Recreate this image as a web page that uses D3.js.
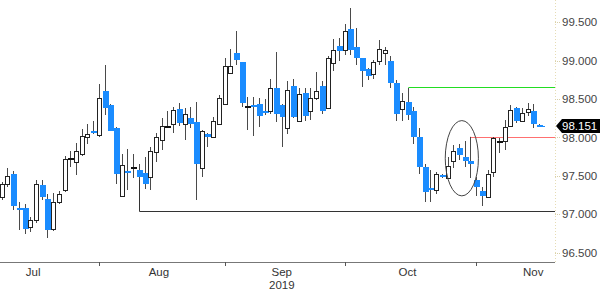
<!DOCTYPE html>
<html>
<head>
<meta charset="utf-8">
<script src="https://cdn.jsdelivr.net/npm/d3@7"></script>
<style>
  body { margin: 0; background: #fff; }
  svg { display: block; font-family: "Liberation Sans", Arial, sans-serif; }
</style>
</head>
<body>
<div id="chart"></div>
<script>
// Daily OHLC, 9 Jul - 18 Nov 2019 (one entry per trading day)
const opens = [
  97.23, 97.39, 97.52, 97.08, 97.08, 96.84, 96.93, 97.38, 97.20, 96.81,
  97.16, 97.32, 97.728, 97.68, 97.79, 98.00, 98.09, 98.03, 98.61, 98.42,
  98.12, 97.24, 97.57, 97.61, 97.58, 97.54, 97.49, 97.81, 97.97, 98.15,
  98.18, 98.37, 98.18, 98.26, 98.20, 97.60, 98.05, 98.01, 98.18, 98.43,
  98.84, 99.10, 98.98, 98.41, 98.42, 98.44, 98.34, 98.35, 98.64, 98.42,
  98.13, 98.67, 98.21, 98.58, 98.35, 98.52, 98.67, 98.38, 98.97, 99.19,
  99.14, 99.41, 99.18, 99.04, 98.89, 98.83, 98.99, 99.10, 99.00, 98.71,
  98.37, 98.46, 98.34, 98.01, 97.61, 97.34, 97.32, 97.51, 97.47, 97.69,
  97.86, 97.75, 97.69, 97.45, 97.30, 97.23, 97.55, 97.96, 97.95, 98.15,
  98.38, 98.22, 98.33, 98.35, 98.16
];
const highs = [
  97.42, 97.60, 97.56, 97.16, 97.13, 96.97, 97.45, 97.45, 97.27, 97.28,
  97.30, 97.76, 97.82, 97.93, 98.11, 98.17, 98.21, 98.70, 98.95, 98.44,
  98.14, 97.78, 97.85, 97.78, 97.66, 97.75, 97.87, 98.06, 98.25, 98.35,
  98.40, 98.45, 98.39, 98.40, 98.46, 98.10, 98.06, 98.27, 98.55, 99.03,
  99.15, 99.39, 98.98, 98.53, 98.53, 98.52, 98.50, 98.76, 99.11, 98.43,
  98.73, 98.76, 98.65, 98.64, 98.65, 98.85, 98.73, 99.06, 99.28, 99.30,
  99.48, 99.68, 99.43, 99.04, 98.90, 99.01, 99.27, 99.18, 99.06, 98.75,
  98.58, 98.65, 98.40, 98.12, 97.66, 97.58, 97.55, 97.53, 97.75, 97.90,
  97.92, 97.95, 98.01, 97.49, 97.36, 97.58, 98.01, 97.99, 98.23, 98.42,
  98.40, 98.38, 98.45, 98.44, 98.17
];
const lows = [
  97.19, 97.36, 97.06, 96.80, 96.74, 96.77, 96.89, 97.19, 96.69, 96.78,
  97.14, 97.29, 97.62, 97.51, 97.76, 97.91, 98.05, 98.01, 98.29, 98.08,
  97.40, 97.22, 97.32, 97.47, 97.45, 97.33, 97.32, 97.68, 97.84, 98.13,
  98.06, 98.15, 97.97, 98.12, 97.19, 97.49, 97.88, 98.00, 98.17, 98.42,
  98.83, 98.94, 98.40, 98.10, 98.02, 98.14, 98.29, 98.30, 98.20, 97.88,
  98.04, 98.26, 98.21, 98.22, 98.23, 98.49, 98.31, 98.37, 98.86, 99.00,
  99.08, 99.07, 98.95, 98.66, 98.75, 98.76, 98.94, 98.94, 98.64, 98.21,
  98.21, 98.23, 97.92, 97.53, 97.16, 97.16, 97.27, 97.47, 97.46, 97.60,
  97.71, 97.62, 97.47, 97.24, 97.11, 97.21, 97.49, 97.80, 97.84, 98.14,
  98.19, 98.21, 98.28, 98.13, 98.14
];
const closes = [
  97.39, 97.50, 97.11, 97.07, 96.81, 96.93, 97.40, 97.23, 96.80, 97.16,
  97.27, 97.72, 97.732, 97.82, 98.02, 98.05, 98.06, 98.52, 98.38, 98.08,
  97.53, 97.64, 97.55, 97.62, 97.49, 97.39, 97.82, 98.00, 98.15, 98.152,
  98.36, 98.19, 98.30, 98.18, 97.65, 98.08, 98.01, 98.21, 98.52, 98.93,
  98.93, 99.01, 98.45, 98.415, 98.40, 98.28, 98.33, 98.65, 98.31, 98.27,
  98.62, 98.27, 98.57, 98.28, 98.52, 98.61, 98.35, 99.04, 99.14, 99.12,
  99.38, 99.14, 99.03, 98.87, 98.80, 98.98, 99.15, 99.14, 98.71, 98.31,
  98.47, 98.29, 98.01, 97.62, 97.29, 97.33, 97.53, 97.49, 97.63, 97.83,
  97.77, 97.69, 97.65, 97.36, 97.24, 97.52, 97.99, 97.962, 98.14, 98.36,
  98.21, 98.32, 98.37, 98.17, 98.151
];

// axis labels
const yTicks = [96.5, 97.0, 97.5, 98.0, 98.5, 99.0, 99.5];
const monthBreaks = [17, 39, 60, 83];           // first trading day of Aug, Sep, Oct, Nov
const monthNames = ['Jul', 'Aug', 'Sep', 'Oct', 'Nov'];
const monthCentres = [5.5, 27.5, 49, 71, 93];  // middle of each month, in trading days
const yearLabel = '2019';
const lastPrice = 98.151;

// annotations: [start day, start price, level]
const supportLine = [24, 97.45, 97.04];
const resistLine = [71, 98.654, 98.654];
const redLine = [82, 98.01, 98.01];
const circle = { day: 80.5, price: 97.73, days: 2.9, pts: 0.49 };

const W = 600, H = 290;
const plotRight = 555, axisY = 262;

const svg = d3.select('#chart').append('svg')
  .attr('width', W).attr('height', H);

const x = d3.scaleLinear().domain([0, 94]).range([1.7, 539]);
const y = d3.scaleLinear().domain([96.379, 99.790]).range([axisY, 0]);

const candles = opens.map((o, i) => ({ i, o, h: highs[i], l: lows[i], c: closes[i] }));

// right axis (dotted)
svg.append('line')
  .attr('x1', plotRight + 0.5).attr('x2', plotRight + 0.5)
  .attr('y1', 0).attr('y2', axisY)
  .attr('stroke', '#e6dcb4').attr('stroke-dasharray', '1,2');

const yAxis = svg.append('g');
yAxis.selectAll('line').data(yTicks).enter().append('line')
  .attr('x1', plotRight).attr('x2', plotRight + 5)
  .attr('y1', d => Math.round(y(d)) + 0.5).attr('y2', d => Math.round(y(d)) + 0.5)
  .attr('stroke', '#d8cfa8').attr('stroke-dasharray', '1,1');
yAxis.selectAll('text').data(yTicks).enter().append('text')
  .attr('x', 562).attr('y', d => y(d))
  .attr('dy', '0.36em')
  .attr('font-size', 11.5).attr('fill', '#444')
  .text(d => d3.format('.3f')(d));

// bottom axis
svg.append('line')
  .attr('x1', 0).attr('x2', plotRight)
  .attr('y1', axisY + 0.5).attr('y2', axisY + 0.5)
  .attr('stroke', '#777');
svg.selectAll('.mtick').data(monthBreaks).enter().append('line')
  .attr('x1', d => Math.round(x(d)) + 0.5).attr('x2', d => Math.round(x(d)) + 0.5)
  .attr('y1', axisY).attr('y2', axisY + 4)
  .attr('stroke', '#555');
svg.selectAll('.mlabel').data(monthNames).enter().append('text')
  .attr('x', (d, k) => x(monthCentres[k])).attr('y', 276)
  .attr('text-anchor', 'middle')
  .attr('font-size', 11.5).attr('fill', '#333')
  .text(d => d);
svg.append('text')
  .attr('x', x(monthCentres[2])).attr('y', 289)
  .attr('text-anchor', 'middle')
  .attr('font-size', 11.5).attr('fill', '#333')
  .text(yearLabel);

// horizontal lines drawn behind the candles
const drawLevel = (spec, colour) => {
  const [d, p, lvl] = spec;
  const yy = Math.round(y(lvl)) + 0.5;
  const xx = Math.round(x(d)) + 0.5;
  svg.append('path')
    .attr('d', `M${xx},${y(p)}L${xx},${yy}L${plotRight},${yy}`)
    .attr('fill', 'none').attr('stroke', colour).attr('stroke-width', 1);
};
drawLevel(supportLine, '#333333');
drawLevel(resistLine, '#22dd22');
drawLevel(redLine, '#ff7070');

// candles
const g = svg.append('g').attr('shape-rendering', 'crispEdges');
const cg = g.selectAll('g').data(candles).enter().append('g');

cg.append('line')
  .attr('x1', d => Math.round(x(d.i)) + 0.5).attr('x2', d => Math.round(x(d.i)) + 0.5)
  .attr('y1', d => y(d.h)).attr('y2', d => y(d.l))
  .attr('stroke', '#4a4a4a');

cg.filter(d => d.c >= d.o && Math.abs(y(d.o) - y(d.c)) >= 2)
  .append('rect')
  .attr('x', d => Math.round(x(d.i)) - 1.5)
  .attr('width', 4)
  .attr('y', d => Math.round(y(d.c)) + 0.5)
  .attr('height', d => Math.round(y(d.o)) - Math.round(y(d.c)))
  .attr('fill', '#fff').attr('stroke', '#222');

cg.filter(d => d.c >= d.o && Math.abs(y(d.o) - y(d.c)) < 2)
  .append('rect')
  .attr('x', d => Math.round(x(d.i)) - 2)
  .attr('width', 6)
  .attr('y', d => Math.round(y(d.o)))
  .attr('height', 1.5)
  .attr('fill', '#111');

cg.filter(d => d.c < d.o)
  .append('rect')
  .attr('x', d => Math.round(x(d.i)) - 2)
  .attr('width', 6)
  .attr('y', d => Math.round(y(d.o)))
  .attr('height', d => Math.max(2, Math.round(y(d.c)) - Math.round(y(d.o))))
  .attr('fill', '#1a8cff');

// last candle tick mark
const last = candles[candles.length - 1];
svg.append('line')
  .attr('x1', Math.round(x(last.i))).attr('x2', Math.round(x(last.i)) + 6)
  .attr('y1', Math.round(y(last.c)) + 0.5).attr('y2', Math.round(y(last.c)) + 0.5)
  .attr('stroke', '#1a8cff');

// ellipse highlight
svg.append('ellipse')
  .attr('cx', x(circle.day)).attr('cy', y(circle.price))
  .attr('rx', x(circle.days) - x(0)).attr('ry', y(circle.price - circle.pts) - y(circle.price))
  .attr('fill', 'none').attr('stroke', '#444').attr('stroke-width', 1);

// last price tag
const ty = y(lastPrice);
svg.append('path')
  .attr('d', `M556,${ty}L562,${ty - 7}L600,${ty - 7}L600,${ty + 7}L562,${ty + 7}Z`)
  .attr('fill', '#000');
svg.append('text')
  .attr('x', 562).attr('y', ty).attr('dy', '0.36em')
  .attr('font-size', 11.5).attr('fill', '#fff')
  .text(d3.format('.3f')(lastPrice));
</script>
</body>
</html>
